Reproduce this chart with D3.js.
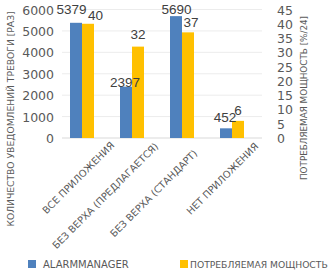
<!DOCTYPE html>
<html><head><meta charset="utf-8">
<script src="https://cdn.jsdelivr.net/npm/d3@7"></script>
<style>body{margin:0;background:#fff}svg{display:block}</style>
</head><body>
<svg id="c" width="336" height="272"></svg>
<script>
const categories = ["ВСЕ ПРИЛОЖЕНИЯ","БЕЗ ВЕРХА (ПРЕДЛАГАЕТСЯ)","БЕЗ ВЕРХА (СТАНДАРТ)","НЕТ ПРИЛОЖЕНИЯ"];
const alarmValues = [5379, 2397, 5690, 452];
const powerValues = [40, 32, 37, 6];
const leftTicks = [0,1000,2000,3000,4000,5000,6000];
const rightTicks = [0,5,10,15,20,25,30,35,40,45];
const seriesNames = ["ALARMMANAGER","ПОТРЕБЛЯЕМАЯ МОЩНОСТЬ"];
const leftTitle = "КОЛИЧЕСТВО УВЕДОМЛЕНИЙ  ТРЕВОГИ [РАЗ]";
const rightTitle = "ПОТРЕБЛЯЕМАЯ МОЩНОСТЬ [%/24]";

const BLUE="#4F81BD", YELLOW="#FFC000", TXT="#595959";
const svg=d3.select("#c");
const plot={l:62,r:262,t:9.5,b:138};
const x=d3.scaleBand().domain(categories).range([plot.l,plot.r]);
const yL=d3.scaleLinear().domain([0,6000]).range([plot.b,plot.t]);
const yR=d3.scaleLinear().domain([0,45]).range([plot.b,plot.t]);
const barW=12, barOff=8;

// gridlines
svg.append("g").selectAll("line").data(leftTicks.filter(d=>d>0)).join("line")
  .attr("x1",plot.l).attr("x2",plot.r).attr("y1",d=>yL(d)).attr("y2",d=>yL(d))
  .attr("stroke","#ececec").attr("stroke-width",1);
svg.append("line").attr("x1",plot.l).attr("x2",plot.r).attr("y1",yL(0)).attr("y2",yL(0))
  .attr("stroke","#d9d9d9").attr("stroke-width",1);

// axes
const axL=svg.append("g").attr("transform",`translate(56,0)`)
  .call(d3.axisLeft(yL).tickValues(leftTicks).tickFormat(d3.format("d")).tickSize(0).tickPadding(2));
const axR=svg.append("g").attr("transform",`translate(275,0)`)
  .call(d3.axisRight(yR).tickValues(rightTicks).tickFormat(d3.format("d")).tickSize(0).tickPadding(2));
[axL,axR].forEach(a=>{a.select(".domain").remove();
  a.selectAll("text").attr("fill",TXT).attr("font-family","DejaVu Sans").attr("font-size","12.5px").attr("dy","0.36em");});

// bars
svg.append("g").selectAll("rect").data(categories).join("rect")
  .attr("x",d=>x(d)+barOff).attr("width",barW)
  .attr("y",(d,i)=>yL(alarmValues[i])).attr("height",(d,i)=>yL(0)-yL(alarmValues[i]))
  .attr("fill",BLUE);
svg.append("g").selectAll("rect").data(categories).join("rect")
  .attr("x",d=>x(d)+barOff+barW).attr("width",barW)
  .attr("y",(d,i)=>yR(powerValues[i])).attr("height",(d,i)=>yR(0)-yR(powerValues[i]))
  .attr("fill",YELLOW);

// data labels (offsets mimic the reference's collision-avoided placement)
const alarmLblDx=[-4.5,-1,0.5,-1], alarmLblDy=[-9,0,-2,-6.5];
const powerLblDx=[7.5,0,3,0], powerLblDy=[-3.5,-7.5,-5,-6];
const lblFont={ff:"Liberation Sans",fs:"13.5px",fill:"#404040"};
svg.append("g").selectAll("text").data(categories).join("text")
  .attr("x",(d,i)=>x(d)+barOff+barW/2+alarmLblDx[i])
  .attr("y",(d,i)=>yL(alarmValues[i])+alarmLblDy[i])
  .attr("text-anchor","middle").attr("font-family",lblFont.ff).attr("font-size",lblFont.fs).attr("fill",lblFont.fill)
  .text((d,i)=>alarmValues[i]);
svg.append("g").selectAll("text").data(categories).join("text")
  .attr("x",(d,i)=>x(d)+barOff+barW*1.5+powerLblDx[i])
  .attr("y",(d,i)=>yR(powerValues[i])+powerLblDy[i])
  .attr("text-anchor","middle").attr("font-family",lblFont.ff).attr("font-size",lblFont.fs).attr("fill",lblFont.fill)
  .text((d,i)=>powerValues[i]);

// category labels
const catEndDx=[53,47,36,47], catEndY=[146,147,154,147];
svg.append("g").selectAll("text").data(categories).join("text")
  .attr("transform",(d,i)=>`translate(${x(d)+catEndDx[i]},${catEndY[i]}) rotate(-45)`)
  .attr("text-anchor","end").attr("font-family","DejaVu Sans").attr("font-size","9.8px").attr("fill",TXT)
  .text(d=>d);

// axis titles
svg.append("text").attr("transform","translate(13.5,119) rotate(-90)").attr("text-anchor","middle")
  .attr("font-family","DejaVu Sans").attr("font-size","9.2px").attr("fill",TXT).text(leftTitle);
svg.append("text").attr("transform","translate(307,98) rotate(-90)").attr("text-anchor","middle")
  .attr("font-family","DejaVu Sans").attr("font-size","8.8px").attr("fill",TXT).text(rightTitle);

// legend
const legX=[28,180], legTX=[43,190], legFS=["10px","9.2px"];
const lg=svg.append("g");
seriesNames.forEach((n,i)=>{
  lg.append("rect").attr("x",legX[i]).attr("y",260).attr("width",8).attr("height",8).attr("fill",[BLUE,YELLOW][i]);
  lg.append("text").attr("x",legTX[i]).attr("y",268).attr("font-family","DejaVu Sans").attr("font-size",legFS[i])
    .attr("fill",TXT).text(n);
});
</script>
</body></html>
